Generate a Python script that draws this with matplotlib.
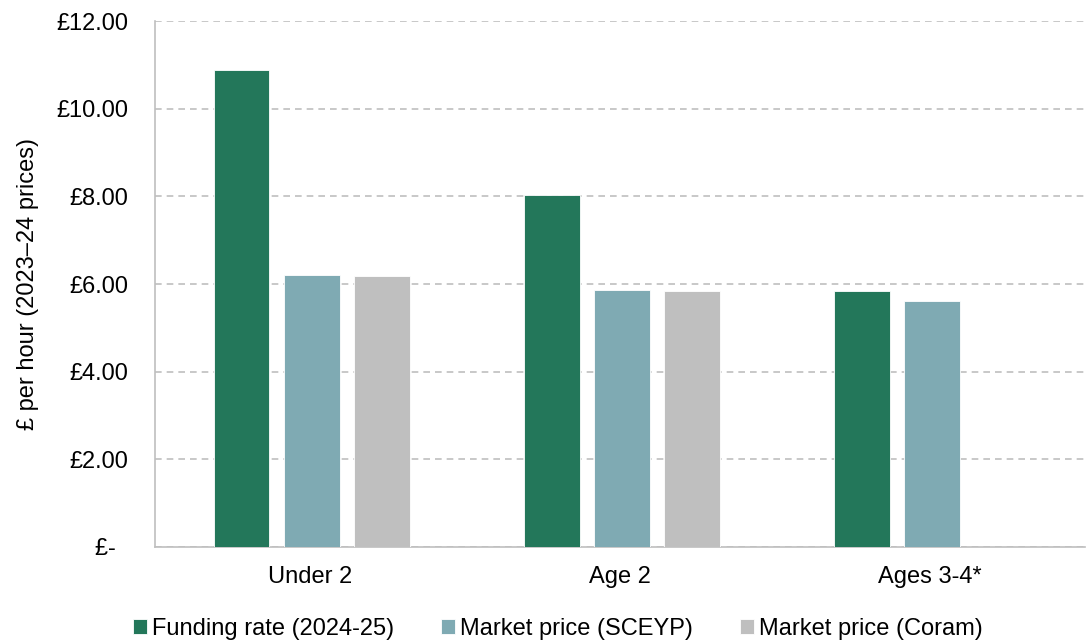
import matplotlib
matplotlib.use("Agg")
import matplotlib.pyplot as plt
import numpy as np

plt.rcParams['font.family'] = ['Liberation Sans', 'DejaVu Sans']

categories = ['Under 2', 'Age 2', 'Ages 3-4*']
series_names = ['Funding rate (2024-25)', 'Market price (SCEYP)', 'Market price (Coram)']
funding = [10.88, 8.03, 5.84]
sceyp = [6.21, 5.86, 5.61]
coram = [6.18, 5.84, np.nan]
colors = ['#23775A', '#7FAAB3', '#BFBFBF']
yticks = [0, 2, 4, 6, 8, 10, 12]
ytick_labels = ['£-  ', '£2.00', '£4.00', '£6.00', '£8.00', '£10.00', '£12.00']

fs = 17
fig = plt.figure(figsize=(10.88, 6.42), dpi=100)
ax = fig.add_axes([0.1425, 0.148, 0.855, 0.819])

x = np.arange(len(categories))
w = 0.18
off = 0.226
for i, (vals, name) in enumerate(zip([funding, sceyp, coram], series_names)):
    ax.bar(x + (i - 1) * off + 0.005, vals, width=w, color=colors[i], label=name,
           edgecolor='white', linewidth=0.6, zorder=3)

ax.set_xlim(-0.5, 2.5)
ax.set_ylim(0, 12)
ax.set_yticks(yticks)
ax.set_yticklabels(ytick_labels, fontsize=fs)
ax.set_xticks(x)
ax.set_xticklabels(categories, fontsize=fs)
ax.tick_params(axis='y', length=0, pad=19)
ax.tick_params(axis='x', length=0, pad=14)
ax.yaxis.grid(True, color='#BFBFBF', linestyle=(0, (4, 3)), linewidth=1.2, zorder=0)
for s in ['top', 'right']:
    ax.spines[s].set_visible(False)
for s in ['bottom', 'left']:
    ax.spines[s].set_color('#BFBFBF')
    ax.spines[s].set_linewidth(1.2)

ax.set_ylabel('£ per hour (2023–24 prices)', fontsize=fs, labelpad=13)

ax.legend(loc='upper center', bbox_to_anchor=(0.433, -0.094), ncol=3, frameon=False,
          fontsize=fs, handlelength=0.6, handleheight=0.6, handletextpad=0.2,
          columnspacing=2.0)

fig.savefig('out.png', dpi=100)
